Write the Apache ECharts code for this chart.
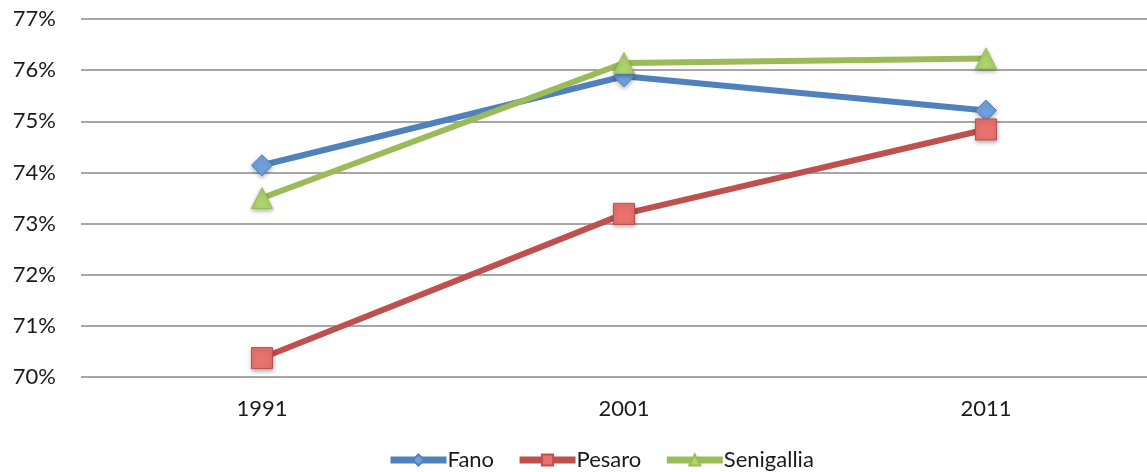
<!DOCTYPE html>
<html>
<head>
<meta charset="utf-8">
<script src="https://cdn.jsdelivr.net/npm/echarts@6/dist/echarts.min.js"></script>
<style>
  html, body { margin: 0; padding: 0; background: #fff; }
  #chart { width: 1147px; height: 472px; }
</style>
</head>
<body>
<div id="chart"></div>
<script>
// Census years and share values (%) per town
const years = ['1991', '2001', '2011'];
const fano = [74.14, 75.88, 75.21];
const pesaro = [70.37, 73.19, 74.84];
const senigallia = [73.50, 76.14, 76.23];

const FONT = 'Lato, "Open Sans", sans-serif';

function series(name, data, color, light, symbol, size) {
  return {
    name: name,
    type: 'line',
    data: data,
    symbol: symbol,
    symbolSize: size,
    lineStyle: { color: color, width: 6 },
    itemStyle: {
      color: light,
      borderColor: color,
      borderWidth: 1,
      shadowColor: 'rgba(0,0,0,0.3)',
      shadowBlur: 4,
      shadowOffsetY: 2
    },
    emphasis: { disabled: true },
    z: 3
  };
}

const chart = echarts.init(document.getElementById('chart'));
chart.setOption({
  animation: false,
  backgroundColor: '#fff',
  // plot area runs past the right edge of the canvas
  grid: {
    left: 81, width: 1086, top: 19, height: 358,
    containLabel: false,
    outerBoundsMode: 'none'
  },
  legend: {
    top: 449,
    left: 387,
    padding: 0,
    itemWidth: 56,
    itemHeight: 14,
    itemGap: 22,
    lineStyle: { width: 7 },
    textStyle: { fontFamily: FONT, fontSize: 22, color: '#1a1a1a', padding: [0, 0, 0, -4] },
    data: ['Fano', 'Pesaro', 'Senigallia']
  },
  xAxis: {
    type: 'category',
    data: years,
    boundaryGap: true,
    axisLine: { show: false },
    axisTick: { show: false },
    axisLabel: { fontFamily: FONT, fontSize: 22, color: '#1a1a1a', margin: 21 }
  },
  yAxis: {
    type: 'value',
    min: 70,
    max: 77,
    interval: 1,
    axisLine: { show: false },
    axisTick: { show: false },
    axisLabel: {
      formatter: '{value}%',
      fontFamily: FONT,
      fontSize: 22,
      color: '#1a1a1a',
      margin: 25
    },
    splitLine: { lineStyle: { color: '#a6a6a6', width: 2 } }
  },
  series: [
    series('Fano', fano, '#4f81bd', '#6fa0dc', 'diamond', 21),
    series('Pesaro', pesaro, '#c0504d', '#e8726e', 'rect', 21),
    series('Senigallia', senigallia, '#9bbb59', '#b0d46c', 'triangle', 21)
  ]
});
</script>
</body>
</html>
